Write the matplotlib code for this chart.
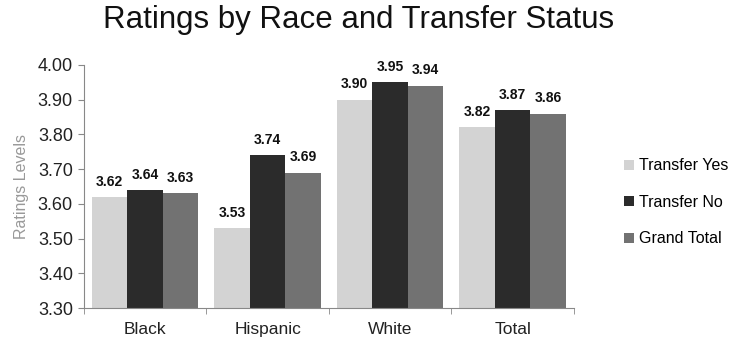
import matplotlib.pyplot as plt
import numpy as np

plt.rcParams['font.family'] = ['Liberation Sans', 'DejaVu Sans']

categories = ['Black', 'Hispanic', 'White', 'Total']
series_names = ['Transfer Yes', 'Transfer No', 'Grand Total']
transfer_yes = [3.62, 3.53, 3.90, 3.82]
transfer_no = [3.64, 3.74, 3.95, 3.87]
grand_total = [3.63, 3.69, 3.94, 3.86]
colors = ['#d3d3d3', '#2b2b2b', '#727272']

fig = plt.figure(figsize=(7.4, 3.45), dpi=100)
ax = fig.add_axes([0.1135, 0.107, 0.662, 0.705])

x = np.arange(len(categories))
w = 0.29
for i, (vals, name, c) in enumerate(zip([transfer_yes, transfer_no, grand_total], series_names, colors)):
    pos = x + (i - 1) * w
    bars = ax.bar(pos, [v - 3.3 for v in vals], w, bottom=3.3, color=c, label=name)
    for xp, v in zip(pos, vals):
        ax.annotate(f'{v:.2f}', (xp, v), xytext=(0, 6), textcoords='offset points',
                    ha='center', va='bottom', fontsize=10, fontweight='bold', color='#111111')

ax.set_ylim(3.3, 4.0)
ax.set_xlim(-0.5, len(categories) - 0.5)
ax.set_yticks(np.arange(3.3, 4.001, 0.1))
ax.set_yticklabels([f'{t:.2f}' for t in np.arange(3.3, 4.001, 0.1)], fontsize=13, color='#222222')
ax.set_xticks(x)
ax.set_xticklabels(categories, fontsize=12.5, color='#222222')
ax.set_xticks(np.arange(-0.5, len(categories), 1), minor=True)
ax.tick_params(axis='x', which='major', length=0, pad=10)
ax.tick_params(axis='x', which='minor', length=4, direction='out', color='#888888')
ax.tick_params(axis='y', length=4, direction='out', color='#888888', pad=4)
ax.set_ylabel('Ratings Levels', fontsize=11.5, color='#999999', labelpad=6)

for s in ['top', 'right']:
    ax.spines[s].set_visible(False)
for s in ['left', 'bottom']:
    ax.spines[s].set_color('#888888')

fig.suptitle('Ratings by Race and Transfer Status', fontsize=22.5, x=0.484, y=0.985, color='#111111')

ax.legend(loc='center left', bbox_to_anchor=(1.073, 0.435), frameon=False, fontsize=11.5,
          handlelength=0.6, handleheight=0.6, handletextpad=0.35, labelspacing=1.35)

fig.savefig('out.png', dpi=100)
